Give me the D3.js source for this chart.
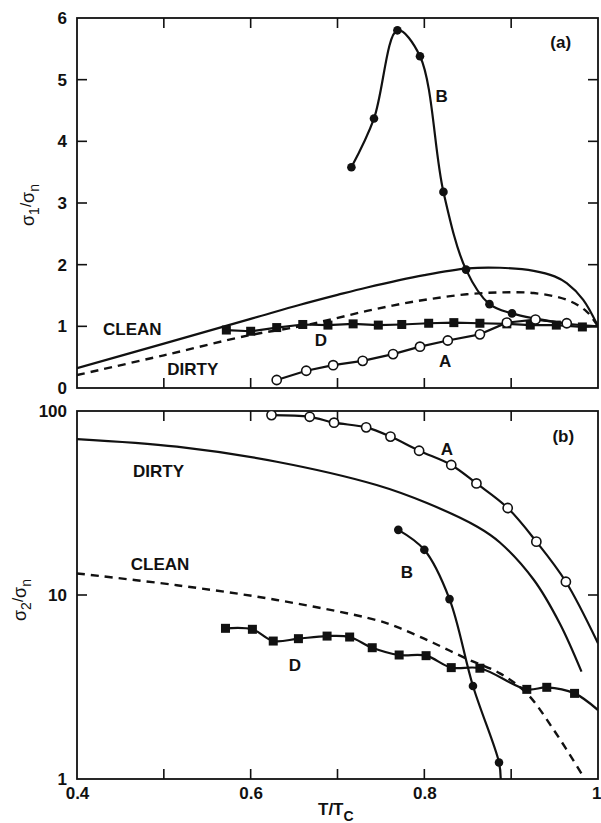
<!DOCTYPE html>
<html>
<head>
<meta charset="utf-8">
<script src="https://cdn.jsdelivr.net/npm/d3@7"></script>
<style>
  body { margin: 0; background: #fff; }
  text { font-family: "Liberation Sans", Arial, Helvetica, sans-serif; fill: #111; }
</style>
</head>
<body>
<div id="canvas"></div>
<script>
"use strict";

let svgWidth = 601;
let svgHeight = 823;

/* ---------------- DATA ---------------- */
// shared x axis, T/Tc
let tTickLabels = [0.4, 0.6, 0.8, 1];
let tMinorTicks = [0.5, 0.6, 0.7, 0.8, 0.9];

// panel (a): sigma1 / sigma_n
let aTicks = [0, 1, 2, 3, 4, 5, 6];
let aClean = [[0.4, 0.32], [0.5, 0.72], [0.6, 1.12], [0.657, 1.35], [0.7, 1.51], [0.734, 1.63],
    [0.8, 1.83], [0.85, 1.94], [0.887, 1.95], [0.926, 1.90], [0.95, 1.81], [0.964, 1.70],
    [0.983, 1.43], [1.0, 1.0]];
let aDirty = [[0.4, 0.21], [0.5, 0.53], [0.6, 0.86], [0.657, 1.0], [0.695, 1.12], [0.734, 1.25],
    [0.772, 1.36], [0.81, 1.45], [0.849, 1.52], [0.887, 1.55], [0.926, 1.54], [0.964, 1.43],
    [0.987, 1.24], [1.0, 1.0]];
let aSampleA = [[0.630, 0.13], [0.664, 0.28], [0.695, 0.37], [0.729, 0.44], [0.764, 0.55],
    [0.795, 0.67], [0.827, 0.77], [0.864, 0.87], [0.895, 1.06], [0.928, 1.11], [0.964, 1.05]];
let aSampleB = [[0.716, 3.58], [0.742, 4.37], [0.769, 5.80], [0.795, 5.38], [0.822, 3.18],
    [0.848, 1.92], [0.875, 1.36], [0.901, 1.21]];
let aSampleBTail = [[0.93, 1.12], [0.96, 1.05], [1.0, 1.0]];
let aSampleD = [[0.572, 0.94], [0.600, 0.92], [0.630, 0.98], [0.660, 1.03], [0.689, 1.02],
    [0.718, 1.04], [0.747, 1.02], [0.774, 1.03], [0.805, 1.05], [0.834, 1.06], [0.864, 1.05],
    [0.895, 1.04], [0.922, 1.02], [0.952, 1.02], [0.982, 0.99]];
let aSampleDTail = [[1.0, 1.0]];

// panel (b): sigma2 / sigma_n (log)
let bTicks = [1, 10, 100];
let bDirty = [[0.4, 70.4], [0.515, 64.0], [0.63, 53.0], [0.745, 39.6], [0.803, 31.6],
    [0.861, 23.5], [0.887, 19.3], [0.926, 12.1], [0.956, 7.0], [0.981, 3.83]];
let bClean = [[0.4, 13.1], [0.515, 11.3], [0.63, 9.4], [0.745, 7.3], [0.772, 6.6], [0.81, 5.5],
    [0.849, 4.5], [0.887, 3.75], [0.918, 2.92], [0.949, 1.85], [0.981, 1.07]];
let bSampleA = [[0.624, 95], [0.668, 93], [0.696, 86.4], [0.733, 81.5], [0.761, 72.6],
    [0.794, 60.8], [0.831, 50.9], [0.860, 40.4], [0.896, 29.7], [0.929, 19.5], [0.963, 11.8]];
let bSampleATail = [[1.0, 5.46]];
let bSampleB = [[0.770, 22.6], [0.800, 17.6], [0.829, 9.5], [0.856, 3.2], [0.886, 1.23]];
let bSampleBTail = [[0.888, 1.0]];
let bSampleD = [[0.571, 6.59], [0.602, 6.51], [0.626, 5.62], [0.655, 5.79], [0.688, 5.98],
    [0.714, 5.91], [0.740, 5.17], [0.771, 4.72], [0.802, 4.68], [0.831, 4.03], [0.864, 4.0],
    [0.918, 3.07], [0.941, 3.15], [0.973, 2.92]];
let bSampleDTail = [[1.0, 2.37]];

// text labels, placed in data coordinates
let aLabels = [
    { text: "CLEAN", t: 0.430, v: 0.86, anchor: "start" },
    { text: "DIRTY", t: 0.504, v: 0.21, anchor: "start" },
    { text: "D", t: 0.681, v: 0.68, anchor: "middle" },
    { text: "A", t: 0.824, v: 0.34, anchor: "middle" },
    { text: "B", t: 0.820, v: 4.64, anchor: "middle" },
    { text: "(a)", t: 0.957, v: 5.51, anchor: "middle" }
];
let bLabels = [
    { text: "DIRTY", t: 0.4645, v: 43.8, anchor: "start" },
    { text: "CLEAN", t: 0.462, v: 13.7, anchor: "start" },
    { text: "D", t: 0.651, v: 3.87, anchor: "middle" },
    { text: "A", t: 0.826, v: 57.7, anchor: "middle" },
    { text: "B", t: 0.780, v: 12.4, anchor: "middle" },
    { text: "(b)", t: 0.960, v: 67.9, anchor: "middle" }
];

/* ---------------- LAYOUT ---------------- */
let plotLeft = 77;
let plotRight = 598;
let panelA = { top: 18, bottom: 388 };
let panelB = { top: 411, bottom: 779 };
let tickLen = 10;

let svg = d3.select("#canvas")
    .append("svg")
    .attr("width", svgWidth)
    .attr("height", svgHeight);

let xScale = d3.scaleLinear().domain([0.4, 1]).range([plotLeft, plotRight]);
let yA = d3.scaleLinear().domain([0, 6]).range([panelA.bottom, panelA.top]);
let yB = d3.scaleLog().domain([1, 100]).range([panelB.bottom, panelB.top]);

/* clip paths */
let defs = svg.append("defs");
[["clipA", panelA], ["clipB", panelB]].forEach(function (c) {
    defs.append("clipPath").attr("id", c[0])
        .append("rect")
        .attr("x", plotLeft)
        .attr("y", c[1].top)
        .attr("width", plotRight - plotLeft)
        .attr("height", c[1].bottom - c[1].top);
});

/* ---------------- HELPERS ---------------- */
function drawCurve(g, yScale, pts, dashed, smooth) {
    let line = d3.line()
        .x(d => xScale(d[0]))
        .y(d => yScale(d[1]))
        .curve(smooth ? d3.curveCatmullRom.alpha(0.5) : d3.curveLinear);
    g.append("path")
        .datum(pts)
        .attr("d", line)
        .attr("fill", "none")
        .attr("stroke", "#111")
        .attr("stroke-width", dashed ? 2.4 : 2.2)
        .attr("stroke-dasharray", dashed ? "8,6" : null)
        .attr("stroke-linejoin", "round");
}

function drawMarkers(g, yScale, pts, kind) {
    pts.forEach(function (d) {
        let cx = xScale(d[0]);
        let cy = yScale(d[1]);
        if (kind === "square") {
            g.append("rect")
                .attr("x", cx - 4.5).attr("y", cy - 4.5)
                .attr("width", 9).attr("height", 9)
                .attr("fill", "#111");
        } else if (kind === "open") {
            g.append("circle")
                .attr("cx", cx).attr("cy", cy).attr("r", 4.6)
                .attr("fill", "#fff").attr("stroke", "#111").attr("stroke-width", 1.6);
        } else {
            g.append("circle")
                .attr("cx", cx).attr("cy", cy).attr("r", 4.3)
                .attr("fill", "#111");
        }
    });
}

function drawFrame(panel, yScale, yTicks, tickFmt, innerYTicks) {
    let g = svg.append("g");

    // left axis with labels
    let left = d3.axisLeft(yScale)
        .tickValues(yTicks)
        .tickFormat(tickFmt)
        .tickSize(0)
        .tickPadding(10);
    let la = g.append("g")
        .attr("transform", "translate(" + plotLeft + ",0)")
        .call(left);
    la.select(".domain").remove();
    la.selectAll("text")
        .attr("font-size", "17px")
        .attr("font-weight", "bold")
        .attr("fill", "#111");

    // inward ticks on the left and right
    innerYTicks.forEach(function (v) {
        g.append("line")
            .attr("x1", plotLeft).attr("x2", plotLeft + tickLen)
            .attr("y1", yScale(v)).attr("y2", yScale(v))
            .attr("stroke", "#111").attr("stroke-width", 1.6);
        g.append("line")
            .attr("x1", plotRight).attr("x2", plotRight - tickLen)
            .attr("y1", yScale(v)).attr("y2", yScale(v))
            .attr("stroke", "#111").attr("stroke-width", 1.6);
    });

    // inward ticks on top and bottom
    tMinorTicks.forEach(function (t) {
        g.append("line")
            .attr("x1", xScale(t)).attr("x2", xScale(t))
            .attr("y1", panel.top).attr("y2", panel.top + tickLen)
            .attr("stroke", "#111").attr("stroke-width", 1.6);
        g.append("line")
            .attr("x1", xScale(t)).attr("x2", xScale(t))
            .attr("y1", panel.bottom).attr("y2", panel.bottom - tickLen)
            .attr("stroke", "#111").attr("stroke-width", 1.6);
    });

    g.append("rect")
        .attr("x", plotLeft)
        .attr("y", panel.top)
        .attr("width", plotRight - plotLeft)
        .attr("height", panel.bottom - panel.top)
        .attr("fill", "none")
        .attr("stroke", "#111")
        .attr("stroke-width", 1.8);
}

function drawLabels(yScale, labels) {
    labels.forEach(function (d) {
        svg.append("text")
            .attr("x", xScale(d.t))
            .attr("y", yScale(d.v))
            .attr("text-anchor", d.anchor)
            .attr("font-size", "17px")
            .attr("font-weight", "bold")
            .text(d.text);
    });
}

/* ---------------- PANEL (a) ---------------- */
drawFrame(panelA, yA, aTicks, d3.format("d"), [1, 2, 3, 4, 5]);

let gA = svg.append("g").attr("clip-path", "url(#clipA)");
drawCurve(gA, yA, aClean, false, true);
drawCurve(gA, yA, aDirty, true, true);
drawCurve(gA, yA, aSampleA, false, false);
drawCurve(gA, yA, aSampleD.concat(aSampleDTail), false, false);
drawCurve(gA, yA, aSampleB.concat(aSampleBTail), false, true);
drawMarkers(gA, yA, aSampleD, "square");
drawMarkers(gA, yA, aSampleB, "filled");
drawMarkers(gA, yA, aSampleA, "open");
drawLabels(yA, aLabels);

/* ---------------- PANEL (b) ---------------- */
drawFrame(panelB, yB, bTicks, d3.format("d"), [10]);

let gB = svg.append("g").attr("clip-path", "url(#clipB)");
drawCurve(gB, yB, bDirty, false, true);
drawCurve(gB, yB, bClean, true, true);
drawCurve(gB, yB, bSampleA.concat(bSampleATail), false, true);
drawCurve(gB, yB, bSampleB.concat(bSampleBTail), false, true);
drawCurve(gB, yB, bSampleD.concat(bSampleDTail), false, true);
drawMarkers(gB, yB, bSampleD, "square");
drawMarkers(gB, yB, bSampleB, "filled");
drawMarkers(gB, yB, bSampleA, "open");
drawLabels(yB, bLabels);

/* ---------------- X AXIS LABELS ---------------- */
let xAxis = d3.axisBottom(xScale)
    .tickValues(tTickLabels)
    .tickFormat(d3.format("~g"))
    .tickSize(0)
    .tickPadding(8);

let xa = svg.append("g")
    .attr("transform", "translate(0," + panelB.bottom + ")")
    .call(xAxis);
xa.select(".domain").remove();
xa.selectAll("text")
    .attr("font-size", "17px")
    .attr("font-weight", "bold")
    .attr("fill", "#111")
    .attr("text-anchor", d => d === 1 ? "end" : "middle")
    .attr("dx", d => d === 1 ? 3 : 0);

let xTitle = svg.append("text")
    .attr("x", 318)
    .attr("y", 815)
    .attr("font-size", "17px")
    .attr("font-weight", "bold");
xTitle.append("tspan").text("T/T");
xTitle.append("tspan").attr("dy", 6).attr("font-size", "14px").text("C");

/* ---------------- Y AXIS TITLES ---------------- */
function yTitle(x, y, sub) {
    let t = svg.append("text")
        .attr("transform", "translate(" + x + "," + y + ") rotate(-90)")
        .attr("text-anchor", "middle")
        .attr("font-size", "18px");
    t.append("tspan").text("σ");
    t.append("tspan").attr("dy", 5).attr("font-size", "14px").text(sub);
    t.append("tspan").attr("dy", -8).attr("font-size", "15px").text("/");
    t.append("tspan").attr("dy", 3).text("σ");
    t.append("tspan").attr("dy", 5).attr("font-size", "14px").text("n");
}
yTitle(34, 205, "1");
yTitle(26, 600, "2");
</script>
</body>
</html>
